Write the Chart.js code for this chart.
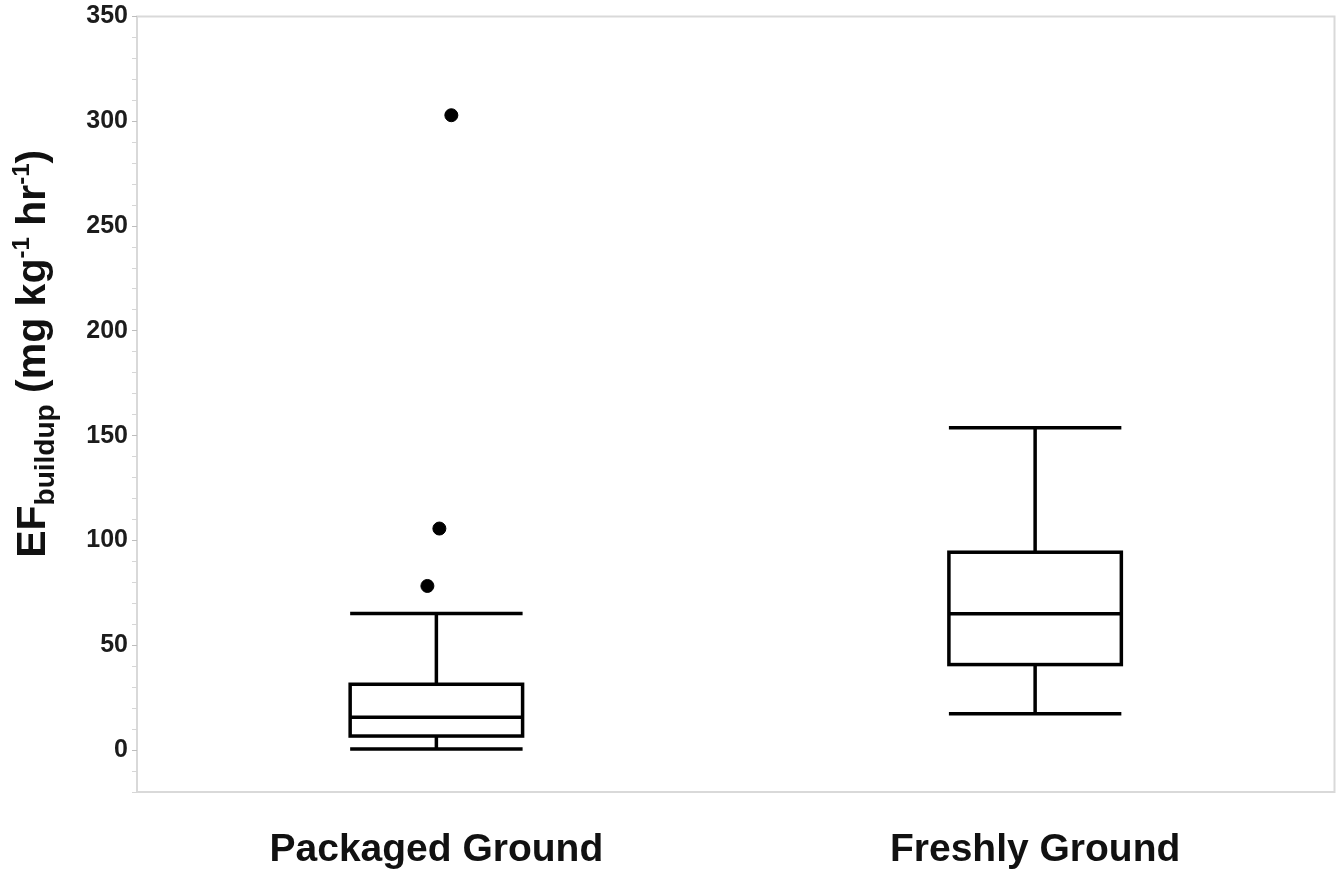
<!DOCTYPE html>
<html>
<head>
<meta charset="utf-8">
<script src="https://cdn.jsdelivr.net/npm/chart.js@4.4.1/dist/chart.umd.min.js"></script>
<style>
  body { margin: 0; background: #fff; }
  #wrap { width: 1342px; height: 869px; }
</style>
</head>
<body>
<div id="wrap"><canvas id="chart"></canvas></div>
<script>
// values
const categories = ["Packaged Ground", "Freshly Ground"];
const whiskerLow = [0.5, 17.3];
const q1 = [6.7, 40.8];
const median = [15.7, 65.1];
const q3 = [31.4, 94.4];
const whiskerHigh = [65.2, 153.8];
const outliersPackaged = [78.3, 105.7, 302.9];
const outliersFresh = [];
const yTickLabels = [0, 50, 100, 150, 200, 250, 300, 350];

const FONT = "'Liberation Sans', Arial, Helvetica, sans-serif";
const BOX_HALF = 0.144; // half box width in category units
const JITTER = 0.02;

// outliers spread sideways a little so they don't sit on the whisker
const outlierPoints = [];
[outliersPackaged, outliersFresh].forEach((list, i) => {
  const sorted = [...list].sort((a, b) => a - b);
  sorted.forEach((v, k) => {
    outlierPoints.push({ x: i + 0.005 + (k - (sorted.length - 1) / 2) * JITTER, y: v });
  });
});

const boxPlugin = {
  id: "boxes",
  beforeDraw(chart) {
    const { ctx, chartArea: a } = chart;
    ctx.save();
    ctx.strokeStyle = "#d9d9d9";
    ctx.lineWidth = 2;
    ctx.strokeRect(a.left, a.top, a.right - a.left, a.bottom - a.top);
    ctx.restore();
  },
  afterDatasetsDraw(chart) {
    const { ctx } = chart;
    const xs = chart.scales.x, ys = chart.scales.y;
    ctx.save();
    ctx.strokeStyle = "#000";
    ctx.lineWidth = 3.5;
    ctx.lineCap = "butt";
    categories.forEach((c, i) => {
      const cx = xs.getPixelForValue(i);
      const l = xs.getPixelForValue(i - BOX_HALF);
      const r = xs.getPixelForValue(i + BOX_HALF);
      const yLo = ys.getPixelForValue(whiskerLow[i]);
      const yQ1 = ys.getPixelForValue(q1[i]);
      const yMed = ys.getPixelForValue(median[i]);
      const yQ3 = ys.getPixelForValue(q3[i]);
      const yHi = ys.getPixelForValue(whiskerHigh[i]);
      ctx.beginPath();
      // whiskers
      ctx.moveTo(cx, yHi); ctx.lineTo(cx, yQ3);
      ctx.moveTo(cx, yQ1); ctx.lineTo(cx, yLo);
      // caps
      ctx.moveTo(l, yHi); ctx.lineTo(r, yHi);
      ctx.moveTo(l, yLo); ctx.lineTo(r, yLo);
      // median
      ctx.moveTo(l, yMed); ctx.lineTo(r, yMed);
      ctx.stroke();
      ctx.strokeRect(l, yQ3, r - l, yQ1 - yQ3);
    });
    ctx.restore();
  },
  afterDraw(chart) {
    // y axis title with subscript / superscripts
    const { ctx, chartArea: a } = chart;
    const runs = [
      { t: "EF", size: 41, dy: 0 },
      { t: "buildup", size: 28, dy: 9 },
      { t: " (mg kg", size: 41, dy: 0 },
      { t: "-1", size: 24, dy: -16 },
      { t: " hr", size: 41, dy: 0 },
      { t: "-1", size: 24, dy: -16 },
      { t: ")", size: 41, dy: 0 },
    ];
    ctx.save();
    let total = 0;
    runs.forEach(r => {
      ctx.font = `bold ${r.size}px ${FONT}`;
      r.w = ctx.measureText(r.t).width;
      total += r.w;
    });
    const cy = a.top + (a.bottom - a.top) * 0.435;
    ctx.translate(a.left - 92, cy);
    ctx.rotate(-Math.PI / 2);
    ctx.fillStyle = "#111";
    ctx.textBaseline = "alphabetic";
    let x = -total / 2;
    runs.forEach(r => {
      ctx.font = `bold ${r.size}px ${FONT}`;
      ctx.fillText(r.t, x, r.dy);
      x += r.w;
    });
    ctx.restore();
  },
};

const yAll = [];
for (let v = -20; v <= 350; v += 10) yAll.push(v);

new Chart(document.getElementById("chart"), {
  type: "scatter",
  data: {
    datasets: [
      {
        label: "Outliers",
        data: outlierPoints,
        backgroundColor: "#000",
        borderColor: "#000",
        pointRadius: 6.5,
        pointHoverRadius: 6.5,
      },
    ],
  },
  options: {
    responsive: true,
    maintainAspectRatio: false,
    animation: false,
    layout: { padding: { top: 14, right: 5, left: 0, bottom: 0 } },
    plugins: { legend: { display: false }, tooltip: { enabled: false } },
    scales: {
      x: {
        type: "linear",
        min: -0.5,
        max: 1.5,
        afterBuildTicks: (s) => { s.ticks = categories.map((c, i) => ({ value: i })); },
        afterFit: (s) => { s.height = 77; },
        ticks: {
          callback: (v) => categories[v],
          font: { family: FONT, size: 39, weight: "bold" },
          color: "#111",
          padding: 27,
          autoSkip: false,
          maxRotation: 0,
        },
        grid: { display: false },
        border: { display: false },
      },
      y: {
        min: -20,
        max: 350,
        afterBuildTicks: (s) => { s.ticks = yAll.map(v => ({ value: v })); },
        afterFit: (s) => { s.width = 137; },
        ticks: {
          callback: (v) => (yTickLabels.includes(v) ? v : ""),
          font: { family: FONT, size: 25, weight: "bold", lineHeight: 1 },
          color: "#1c1c1c",
          padding: 4,
          autoSkip: false,
        },
        grid: {
          drawOnChartArea: false,
          tickLength: 5,
          tickColor: (c) => (yTickLabels.includes(c.tick && c.tick.value) ? "#bdbdbd" : "#d6d6d6"),
          color: "#d9d9d9",
        },
        border: { display: false },
      },
    },
  },
  plugins: [boxPlugin],
});
</script>
</body>
</html>
